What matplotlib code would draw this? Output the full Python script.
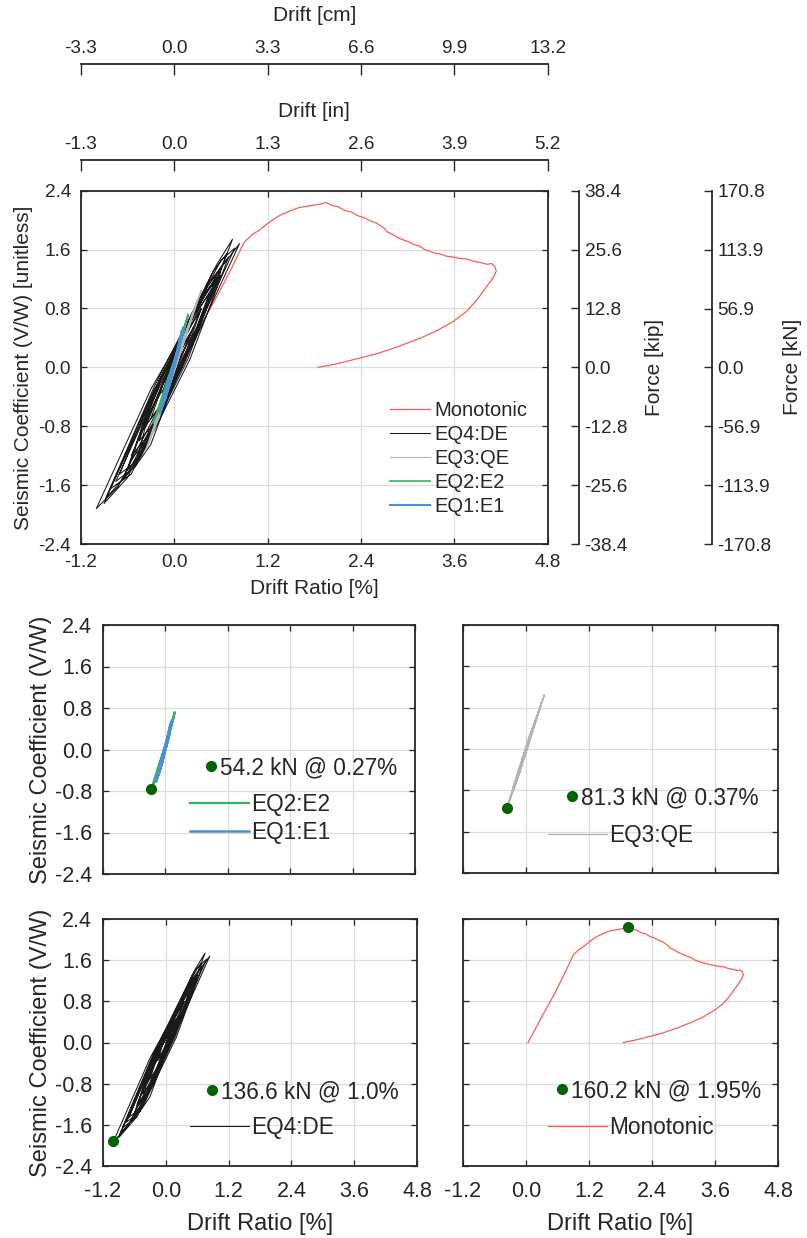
import matplotlib.pyplot as plt

plt.rcParams['font.family'] = ['Liberation Sans', 'DejaVu Sans']
plt.rcParams['text.color'] = '#262626'
plt.rcParams['axes.labelcolor'] = '#262626'
plt.rcParams['xtick.color'] = '#262626'
plt.rcParams['ytick.color'] = '#262626'

# ---- data (drift ratio [%], seismic coefficient V/W) ----
mono_x = [0.04, 0.27, 0.55, 0.74, 0.90, 1.00, 1.09, 1.22, 1.35, 1.48, 1.60, 1.72, 1.82, 1.90, 1.95,
          2.03, 2.11, 2.20, 2.28, 2.36, 2.45, 2.52, 2.60, 2.66, 2.71, 2.74, 2.80, 2.90, 3.00, 3.08,
          3.15, 3.22, 3.28, 3.35, 3.42, 3.50, 3.58, 3.66, 3.76, 3.85, 3.95, 4.02, 4.08, 4.12, 4.14,
          4.10, 4.01, 3.90, 3.76, 3.58, 3.38, 3.15, 2.87, 2.62, 2.36, 2.10, 1.85]
mono_y = [0.00, 0.44, 0.96, 1.35, 1.70, 1.80, 1.86, 1.97, 2.06, 2.12, 2.17, 2.19, 2.21, 2.22, 2.24,
          2.20, 2.18, 2.13, 2.11, 2.06, 2.03, 1.99, 1.96, 1.92, 1.88, 1.84, 1.81, 1.75, 1.71, 1.67,
          1.65, 1.60, 1.58, 1.55, 1.54, 1.51, 1.50, 1.48, 1.47, 1.44, 1.42, 1.40, 1.41, 1.37, 1.31,
          1.22, 1.09, 0.93, 0.76, 0.62, 0.50, 0.39, 0.28, 0.19, 0.12, 0.05, 0.00]

eq4_x = [0.00, 0.10, 0.20, 0.05, -0.08, -0.15, -0.02, 0.15, 0.35, 0.18, -0.10, -0.30,
         -0.12, 0.15, 0.45, 0.25, -0.15, -0.45, -0.25, 0.15, 0.55, 0.32, -0.18, -0.55,
         -0.32, 0.18, 0.62, 0.40, -0.20, -0.65, -0.42, 0.20, 0.70, 0.45, -0.25, -0.60,
         -0.38, 0.25, 0.75, 0.55, -0.25, -0.88, -0.60, 0.28, 0.84, 0.60, -0.30, -1.00,
         -0.72, 0.22, 0.60, 0.40, -0.30, -0.90, -0.60, 0.10, 0.50, 0.30, -0.20, -0.55,
         -0.35, 0.05, 0.35, 0.18, -0.15, -0.40, -0.20, 0.10, 0.25, 0.10, -0.10, -0.20,
         -0.05, 0.05,
         0.30, 0.60, 0.42, 0.00, -0.45, -0.75,
         -0.50, -0.10, 0.35, 0.68,
         0.50, 0.05, -0.40, -0.82,
         -0.55, -0.15, 0.30, 0.52,
         0.35, -0.05, -0.38, -0.50,
         -0.30, 0.00, 0.40, 0.78,
         0.60, 0.15, -0.35, -0.70,
         -0.45, 0.00]
eq4_y = [0.00, 0.25, 0.45, 0.20, -0.10, -0.35, -0.15, 0.20, 0.80, 0.50, -0.10, -0.70,
         -0.45, 0.15, 1.00, 0.70, -0.10, -1.00, -0.75, 0.10, 1.22, 0.85, -0.15, -1.25,
         -0.95, 0.12, 1.38, 1.05, -0.20, -1.52, -1.20, 0.10, 1.50, 1.15, -0.30, -1.40,
         -1.10, 0.35, 1.74, 1.40, -0.25, -1.78, -1.45, 0.40, 1.68, 1.35, -0.30, -1.92,
         -1.62, 0.30, 1.30, 1.00, -0.40, -1.85, -1.50, 0.00, 1.10, 0.75, -0.35, -1.20,
         -0.95, 0.05, 0.80, 0.50, -0.25, -0.85, -0.55, 0.15, 0.55, 0.25, -0.10, -0.40,
         -0.15, 0.10,
         0.55, 1.25, 1.05, 0.15, -0.85, -1.55,
         -1.35, -0.35, 0.65, 1.55,
         1.30, 0.30, -0.70, -1.65,
         -1.45, -0.55, 0.50, 1.15,
         0.95, 0.05, -0.85, -1.35,
         -1.05, -0.20, 0.75, 1.62,
         1.45, 0.55, -0.55, -1.45,
         -1.25, -0.10]

eq3_x = [0.00, 0.15, 0.05, -0.15, -0.05, 0.20, 0.08, -0.25, -0.12, 0.28, 0.12, -0.37,
         -0.20, 0.35, 0.20, -0.30, -0.15, 0.25, 0.10, -0.10, 0.02, 0.30, 0.16, -0.33,
         -0.22, 0.00]
eq3_y = [0.00, 0.45, 0.20, -0.45, -0.20, 0.60, 0.30, -0.75, -0.45, 0.85, 0.40, -1.14,
         -0.70, 1.05, 0.60, -0.95, -0.55, 0.75, 0.30, -0.30, 0.00, 0.92, 0.50, -1.05,
         -0.72, 0.00]

eq2_x = [0.00, 0.08, 0.03, -0.10, -0.04, 0.12, 0.05, -0.18, -0.08, 0.18, 0.08, -0.27,
         -0.12, 0.15, 0.05, -0.10, 0.00]
eq2_y = [0.00, 0.30, 0.10, -0.30, -0.10, 0.50, 0.25, -0.55, -0.30, 0.72, 0.35, -0.76,
         -0.40, 0.60, 0.20, -0.35, 0.00]

eq1_x = [0.00, 0.06, 0.02, -0.08, -0.03, 0.10, 0.04, -0.14, -0.06, 0.12, 0.05, -0.18,
         -0.08, 0.10, 0.03, -0.12, -0.04, 0.06, 0.00]
eq1_y = [0.00, 0.25, 0.10, -0.30, -0.10, 0.45, 0.20, -0.50, -0.25, 0.55, 0.25, -0.62,
         -0.30, 0.50, 0.15, -0.45, -0.15, 0.30, 0.00]

# peak points marked in the small panels
peak_x = [-0.27, -0.37, -1.00, 1.95]
peak_y = [-0.76, -1.14, -1.92, 2.25]
peak_labels = ['54.2 kN @ 0.27%', '81.3 kN @ 0.37%', '136.6 kN @ 1.0%', '160.2 kN @ 1.95%']

ratio_ticks = [-1.2, 0.0, 1.2, 2.4, 3.6, 4.8]
coef_ticks = [-2.4, -1.6, -0.8, 0.0, 0.8, 1.6, 2.4]
in_ticks = [-1.3, 0.0, 1.3, 2.6, 3.9, 5.2]
cm_ticks = [-3.3, 0.0, 3.3, 6.6, 9.9, 13.2]
kip_ticks = [-38.4, -25.6, -12.8, 0.0, 12.8, 25.6, 38.4]
kn_ticks = [-170.8, -113.9, -56.9, 0.0, 56.9, 113.9, 170.8]

c_mono = '#ff5a5a'
c_eq4 = '#1a1a1a'
c_eq3 = '#b4b4b4'
c_eq2 = '#35b06c'
c_eq1 = '#4a8fdc'
c_dot = '#006400'
spine_c = '#262626'

W, H = 807, 1238


def rect(x0, y0, x1, y1):
    return [x0 / W, 1 - y1 / H, (x1 - x0) / W, (y1 - y0) / H]


def fmt(v):
    return ['%.1f' % t for t in v]


def style(ax, fs, xpad, ypad, xlab=True, ylab=True):
    ax.set_xlim(-1.2, 4.8)
    ax.set_ylim(-2.4, 2.4)
    ax.set_xticks(ratio_ticks)
    ax.set_yticks(coef_ticks)
    ax.set_xticklabels(fmt(ratio_ticks) if xlab else [])
    ax.set_yticklabels(fmt(coef_ticks) if ylab else [])
    ax.grid(True, color='#dcdcdc', linewidth=0.9)
    ax.set_axisbelow(True)
    ax.tick_params(direction='in', top=True, right=True, length=4, width=0.9,
                   labelsize=fs)
    ax.tick_params(axis='x', pad=xpad)
    ax.tick_params(axis='y', pad=ypad)
    for s in ax.spines.values():
        s.set_color(spine_c)
        s.set_linewidth(1.3)


fig = plt.figure(figsize=(W / 100, H / 100), dpi=100)

# ---- main panel ----
ax = fig.add_axes(rect(80.7, 190.7, 547.7, 544))
ax.plot(mono_x, mono_y, color=c_mono, lw=0.9, label='Monotonic')
ax.plot(eq4_x, eq4_y, color=c_eq4, lw=0.75, label='EQ4:DE')
ax.plot(eq3_x, eq3_y, color=c_eq3, lw=0.8, label='EQ3:QE')
ax.plot(eq2_x, eq2_y, color=c_eq2, lw=1.2, label='EQ2:E2')
ax.plot(eq1_x, eq1_y, color=c_eq1, lw=1.5, label='EQ1:E1')
style(ax, 13.7, 7, 7)
ax.set_xlabel('Drift Ratio [%]', fontsize=15, labelpad=6)
ax.set_ylabel('Seismic Coefficient (V/W) [unitless]', fontsize=15, labelpad=4)
ax.legend(loc='upper left', bbox_to_anchor=(0.662, 0.405), frameon=False, fontsize=14.5,
          handlelength=2.0, handletextpad=0.2, labelspacing=0.25, borderpad=0, borderaxespad=0)

# drift axes on top
for ypos, ticks, lab in [(160, in_ticks, 'Drift [in]'), (64, cm_ticks, 'Drift [cm]')]:
    tx = fig.add_axes(rect(80.7, ypos, 547.7, ypos + 10))
    tx.patch.set_visible(False)
    for k in ['left', 'right', 'bottom']:
        tx.spines[k].set_visible(False)
    tx.spines['top'].set_color(spine_c)
    tx.spines['top'].set_linewidth(1.3)
    tx.set_xlim(ticks[0], ticks[-1])
    tx.set_xticks(ticks)
    tx.set_xticklabels(fmt(ticks))
    tx.set_yticks([])
    tx.xaxis.tick_top()
    tx.xaxis.set_label_position('top')
    tx.tick_params(direction='in', length=8, width=1.0, labelsize=13.7, pad=5)
    tx.set_xlabel(lab, fontsize=15, labelpad=14)

# force axes on right
for xpos, ticks, lab, lp in [(579, kip_ticks, 'Force [kip]', 12), (712, kn_ticks, 'Force [kN]', 8)]:
    fx = fig.add_axes(rect(xpos - 10, 190.7, xpos, 544))
    fx.patch.set_visible(False)
    for k in ['left', 'top', 'bottom']:
        fx.spines[k].set_visible(False)
    fx.spines['right'].set_color(spine_c)
    fx.spines['right'].set_linewidth(1.3)
    fx.set_ylim(ticks[0], ticks[-1])
    fx.set_yticks(ticks)
    fx.set_yticklabels(fmt(ticks))
    fx.set_xticks([])
    fx.yaxis.tick_right()
    fx.yaxis.set_label_position('right')
    fx.tick_params(direction='in', length=6, width=1.0, labelsize=13.7, pad=4)
    fx.set_ylabel(lab, fontsize=15, labelpad=lp)

# ---- small panels ----
panels = [
    (rect(103, 625, 415, 874), [(eq2_x, eq2_y, c_eq2, 1.6, 'EQ2:E2'), (eq1_x, eq1_y, c_eq1, 1.8, 'EQ1:E1')],
     False, True, (0.327, 0.474), (0.279, 0.325)),
    (rect(463, 625, 778, 873), [(eq3_x, eq3_y, c_eq3, 1.0, 'EQ3:QE')],
     False, False, (0.327, 0.351), (0.270, 0.198)),
    (rect(103, 919, 417, 1166), [(eq4_x, eq4_y, c_eq4, 0.75, 'EQ4:DE')],
     True, True, (0.328, 0.348), (0.277, 0.202)),
    (rect(463, 919, 778, 1166), [(mono_x, mono_y, c_mono, 0.9, 'Monotonic')],
     True, False, (0.295, 0.352), (0.270, 0.202)),
]

for i, (pos, series, xl, yl, dot_anchor, line_anchor) in enumerate(panels):
    a = fig.add_axes(pos)
    handles = []
    for sx, sy, c, lw, lab in series:
        h, = a.plot(sx, sy, color=c, lw=lw, label=lab)
        handles.append(h)
    d, = a.plot([peak_x[i]], [peak_y[i]], 'o', color=c_dot, ms=7, label=peak_labels[i])
    style(a, 15.5, 11, 8, xlab=xl, ylab=yl)
    if xl:
        a.set_xlabel('Drift Ratio [%]', fontsize=17, labelpad=8)
    if yl:
        a.set_ylabel('Seismic Coefficient (V/W)', fontsize=17, labelpad=2)
    leg1 = a.legend(handles=[d], loc='upper left', bbox_to_anchor=dot_anchor, frameon=False,
                    fontsize=16.3, handlelength=0.5, handletextpad=0.15, borderpad=0,
                    borderaxespad=0)
    a.add_artist(leg1)
    a.legend(handles=handles, loc='upper left', bbox_to_anchor=line_anchor, frameon=False,
             fontsize=16.3, handlelength=2.6, handletextpad=0.1, labelspacing=0.2,
             borderpad=0, borderaxespad=0)

fig.savefig('out.png', dpi=100)
